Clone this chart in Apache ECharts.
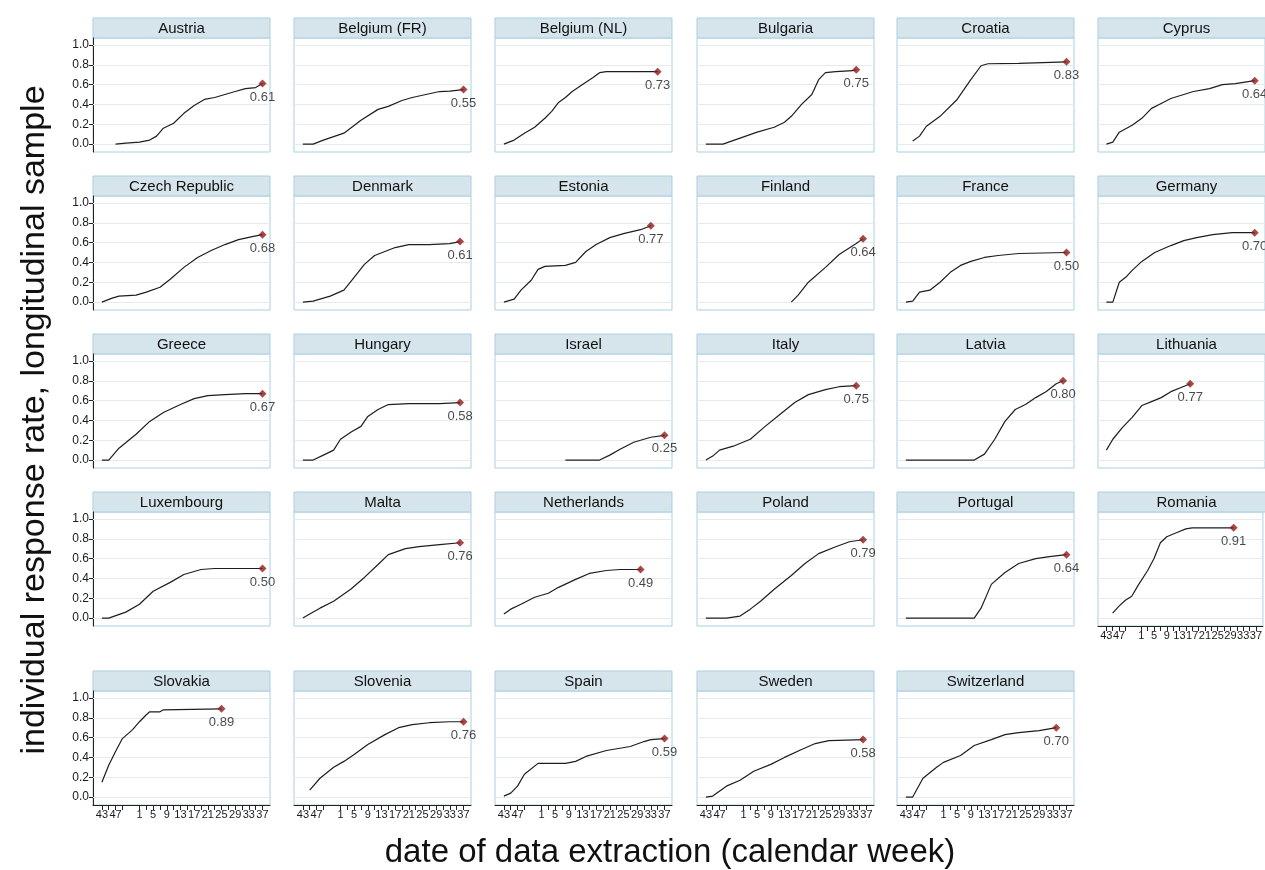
<!DOCTYPE html>
<html><head><meta charset="utf-8">
<script src="https://cdn.jsdelivr.net/npm/echarts@6/dist/echarts.min.js"></script>
<style>html,body{margin:0;padding:0;background:#fff}#c{width:1265px;height:870px}</style>
</head><body><div id="c"></div><script>
// Panel titles, in reading order
const countries = ['Austria','Belgium (FR)','Belgium (NL)','Bulgaria','Croatia','Cyprus',
  'Czech Republic','Denmark','Estonia','Finland','France','Germany',
  'Greece','Hungary','Israel','Italy','Latvia','Lithuania',
  'Luxembourg','Malta','Netherlands','Poland','Portugal','Romania',
  'Slovakia','Slovenia','Spain','Sweden','Switzerland'];

// Week index: 0 = calendar week 43 ... 10 = week 53; 11 = week 1 (next year) ... 47 = week 37
const tickWeeks = [0,2,4,6,11,13,15,17,19,21,23,25,27,29,31,33,35,37,39,41,43,45,47];
const labelWeeks = [0,4,11,15,19,23,27,31,35,39,43,47];
const yTicks = [0,0.2,0.4,0.6,0.8,1.0];

// [week index, response rate]
const austria = [[4,0],[7,0.01],[11,0.02],[14,0.04],[16,0.08],[18,0.16],[21,0.21],[24,0.31],[27,0.39],[30,0.45],[33,0.47],[36,0.5],[39,0.53],[42,0.56],[45,0.57],[47,0.61]];
const belgiumFR = [[0,0],[3,0],[6,0.04],[12,0.11],[17,0.24],[22,0.35],[25,0.38],[29,0.44],[32,0.47],[36,0.5],[40,0.53],[43,0.535],[47,0.55]];
const belgiumNL = [[0,0],[3,0.04],[6,0.11],[9,0.17],[12,0.26],[14,0.33],[16,0.42],[18,0.47],[20,0.53],[23,0.6],[26,0.67],[28,0.72],[30,0.73],[45,0.73]];
const bulgaria = [[0,0],[5,0],[10,0.06],[15,0.12],[20,0.17],[23,0.22],[25,0.28],[28,0.4],[31,0.5],[33,0.65],[35,0.72],[38,0.73],[43,0.74],[44,0.75]];
const croatia = [[2,0.03],[4,0.08],[6,0.18],[10,0.28],[15,0.45],[19,0.65],[22,0.79],[24,0.81],[33,0.815],[47,0.83]];
const cyprus = [[0,0],[2,0.02],[4,0.12],[8,0.19],[11,0.26],[14,0.36],[17,0.41],[20,0.46],[23,0.49],[27,0.53],[32,0.56],[36,0.6],[40,0.61],[44,0.63],[46,0.64]];
const czech = [[0,0],[3,0.04],[5,0.06],[10,0.07],[13,0.1],[17,0.15],[20,0.23],[24,0.35],[28,0.45],[32,0.52],[36,0.58],[40,0.63],[44,0.66],[47,0.68]];
const denmark = [[0,0],[3,0.01],[8,0.06],[12,0.12],[15,0.25],[18,0.38],[21,0.47],[24,0.51],[27,0.55],[31,0.58],[37,0.58],[43,0.59],[46,0.61]];
const estonia = [[0,0],[3,0.03],[5,0.12],[8,0.22],[10,0.33],[12,0.36],[18,0.37],[21,0.4],[24,0.51],[27,0.58],[31,0.65],[35,0.69],[40,0.73],[43,0.77]];
const finland = [[25,0],[27,0.07],[30,0.2],[35,0.35],[39,0.48],[44,0.59],[46,0.64]];
const france = [[0,0],[2,0.01],[4,0.1],[7,0.12],[10,0.2],[13,0.3],[16,0.37],[19,0.41],[23,0.45],[27,0.47],[33,0.49],[47,0.5]];
const germany = [[0,0],[2,0],[4,0.2],[6,0.25],[8,0.32],[11,0.41],[15,0.5],[20,0.57],[24,0.62],[28,0.65],[33,0.68],[39,0.7],[46,0.7]];
const greece = [[0,0],[2,0],[5,0.12],[10,0.26],[14,0.39],[18,0.48],[23,0.56],[27,0.62],[31,0.65],[36,0.66],[42,0.67],[47,0.67]];
const hungary = [[0,0],[3,0],[6,0.05],[9,0.1],[11,0.21],[14,0.28],[17,0.34],[19,0.44],[22,0.51],[25,0.56],[31,0.57],[40,0.57],[46,0.58]];
const israel = [[18,0],[28,0],[31,0.05],[34,0.11],[38,0.18],[43,0.23],[47,0.25]];
const italy = [[0,0],[2,0.04],[4,0.1],[8,0.14],[13,0.21],[17,0.33],[22,0.47],[26,0.58],[30,0.66],[35,0.71],[39,0.74],[44,0.75]];
const latvia = [[0,0],[20,0],[23,0.06],[26,0.21],[29,0.39],[32,0.51],[35,0.56],[38,0.63],[41,0.69],[44,0.77],[46,0.8]];
const lithuania = [[0,0.1],[2,0.21],[5,0.33],[8,0.43],[11,0.55],[14,0.59],[17,0.63],[20,0.69],[23,0.73],[26,0.77]];
const luxembourg = [[0,0],[2,0],[7,0.06],[11,0.14],[15,0.27],[20,0.36],[24,0.44],[29,0.49],[33,0.5],[40,0.5],[47,0.5]];
const malta = [[0,0],[2,0.04],[5,0.1],[9,0.17],[14,0.29],[18,0.41],[22,0.54],[25,0.64],[30,0.7],[34,0.72],[40,0.74],[46,0.76]];
const netherlands = [[0,0.04],[2,0.09],[5,0.14],[9,0.21],[13,0.25],[16,0.31],[21,0.39],[25,0.45],[30,0.48],[34,0.49],[40,0.49]];
const poland = [[0,0],[6,0],[10,0.02],[13,0.09],[16,0.17],[20,0.29],[25,0.43],[29,0.55],[33,0.65],[38,0.72],[42,0.77],[46,0.79]];
const portugal = [[0,0],[20,0],[22,0.1],[25,0.34],[29,0.46],[33,0.55],[38,0.6],[42,0.62],[47,0.64]];
const romania = [[2,0.05],[4,0.12],[6,0.18],[8,0.22],[10,0.33],[13,0.48],[15,0.6],[17,0.76],[19,0.82],[22,0.86],[25,0.9],[27,0.91],[40,0.91]];
const slovakia = [[0,0.15],[2,0.32],[4,0.46],[6,0.59],[9,0.68],[11,0.76],[13,0.83],[14,0.86],[17,0.86],[18,0.88],[35,0.89]];
const slovenia = [[2,0.07],[5,0.19],[9,0.3],[12,0.36],[15,0.43],[19,0.53],[24,0.63],[28,0.7],[32,0.73],[37,0.75],[43,0.76],[47,0.76]];
const spain = [[0,0.01],[2,0.04],[4,0.11],[6,0.23],[10,0.34],[18,0.34],[21,0.36],[24,0.41],[30,0.47],[37,0.51],[41,0.56],[43,0.58],[47,0.59]];
const sweden = [[0,0],[2,0.01],[6,0.11],[10,0.17],[14,0.26],[19,0.33],[23,0.4],[28,0.48],[32,0.54],[36,0.57],[46,0.58]];
const switzerland = [[0,0],[2,0],[5,0.19],[9,0.3],[11,0.35],[16,0.42],[20,0.52],[25,0.58],[29,0.63],[33,0.65],[39,0.67],[44,0.7]];

const rates = [austria,belgiumFR,belgiumNL,bulgaria,croatia,cyprus,czech,denmark,estonia,finland,france,germany,
  greece,hungary,israel,italy,latvia,lithuania,luxembourg,malta,netherlands,poland,portugal,romania,
  slovakia,slovenia,spain,sweden,switzerland];

const yTitle = 'individual response rate, longitudinal sample';
const xTitle = 'date of data extraction (calendar week)';

// layout
const colLeft = [93,294,495,697,897,1098];
const rowTop = [18,176,334,492,671];
const PW = 177, HH = 20, PH = 114;
const FONT = '"Liberation Sans", Arial, sans-serif';

function weekLabel(t){ return t <= 10 ? String(43 + t) : String(t - 10); }

const grid = [], xAxis = [], yAxis = [], series = [], graphic = [];
countries.forEach((name, i) => {
  const c = i % 6, r = Math.floor(i / 6);
  const left = colLeft[c], top = rowTop[r];
  const showX = (i + 6) >= countries.length;
  const showY = c === 0;
  grid.push({left: left, top: top + HH, width: PW, height: PH, show: true,
    borderColor: '#a9d0e3', borderWidth: 1, backgroundColor: '#ffffff'});
  xAxis.push({type: 'value', gridIndex: i, min: -2.6, max: 49.2, show: showX,
    axisLine: {show: true, onZero: false, lineStyle: {color: '#222', width: 1}},
    axisTick: {show: true, customValues: tickWeeks, length: 5, lineStyle: {color: '#222'}},
    axisLabel: {show: true, customValues: labelWeeks, formatter: v => weekLabel(Math.round(v)),
      fontSize: 11, color: '#1a1a1a', margin: 4, fontFamily: FONT},
    splitLine: {show: false}});
  yAxis.push({type: 'value', gridIndex: i, min: -0.08, max: 1.07, show: showY,
    axisLine: {show: true, onZero: false, lineStyle: {color: '#222', width: 1}},
    axisTick: {show: true, customValues: yTicks, length: 4, lineStyle: {color: '#222'}},
    axisLabel: {show: true, customValues: yTicks, formatter: v => v.toFixed(1),
      fontSize: 12, color: '#1a1a1a', margin: 4, fontFamily: FONT},
    splitLine: {show: false}});
  series.push({type: 'line', xAxisIndex: i, yAxisIndex: i, data: [], z: 1, silent: true,
    markLine: {silent: true, symbol: 'none', animation: false, label: {show: false},
      lineStyle: {color: '#e4eaee', width: 1, type: 'solid'},
      data: yTicks.map(v => ({yAxis: v}))}});
  const d = rates[i];
  series.push({type: 'line', xAxisIndex: i, yAxisIndex: i, data: d, showSymbol: false, zlevel: 1,
    lineStyle: {color: '#1e1e1e', width: 1.2}, z: 3, silent: true, animation: false});
  series.push({type: 'scatter', xAxisIndex: i, yAxisIndex: i, data: [d[d.length - 1]], zlevel: 1,
    symbol: 'diamond', symbolSize: 8, itemStyle: {color: '#8e1b1b'}, z: 4, animation: false,
    label: {show: true, position: 'bottom', distance: 3, fontSize: 13, color: '#1a1a1a', fontFamily: FONT,
      formatter: p => p.value[1].toFixed(2)}});
  graphic.push({type: 'rect', shape: {x: left, y: top, width: PW, height: HH},
    style: {fill: '#d6e4eb', stroke: '#a9cfe1', lineWidth: 1}});
  graphic.push({type: 'text', x: left + PW / 2, y: top + HH / 2 + 1,
    style: {text: name, fontSize: 15, fontFamily: FONT, fill: '#111', align: 'center', verticalAlign: 'middle'}});
});
graphic.push({type: 'text', x: 35, y: 420, rotation: Math.PI / 2,
  style: {text: yTitle, fontSize: 34, fontFamily: FONT, fill: '#111', align: 'center', verticalAlign: 'middle'}});
graphic.push({type: 'text', x: 670, y: 853,
  style: {text: xTitle, fontSize: 33, fontFamily: FONT, fill: '#111', align: 'center', verticalAlign: 'middle'}});

const chart = echarts.init(document.getElementById('c'), null, {renderer: 'canvas'});
chart.setOption({animation: false, backgroundColor: '#ffffff', grid, xAxis, yAxis, series, graphic});
</script></body></html>
